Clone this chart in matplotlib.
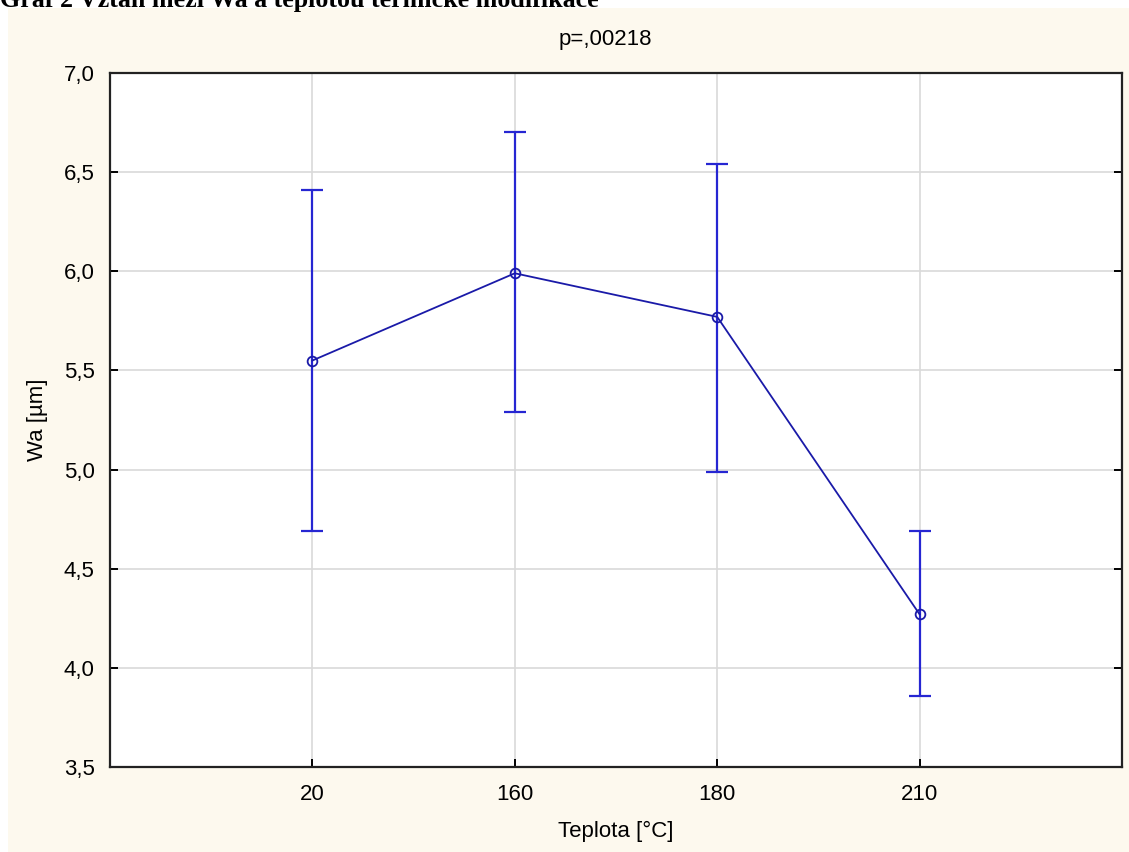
import matplotlib
matplotlib.use("Agg")
import matplotlib.pyplot as plt
from matplotlib.patches import Rectangle

categories = ["20", "160", "180", "210"]
means = [5.55, 5.99, 5.77, 4.27]
upper = [6.41, 6.70, 6.54, 4.69]
lower = [4.69, 5.29, 4.99, 3.86]
yticks = [3.5, 4.0, 4.5, 5.0, 5.5, 6.0, 6.5, 7.0]
ytick_labels = ["3,5", "4,0", "4,5", "5,0", "5,5", "6,0", "6,5", "7,0"]

plt.rcParams['font.family'] = ['Liberation Sans', 'DejaVu Sans']

W, H = 1129, 852
fig = plt.figure(figsize=(W/100, H/100), dpi=100, facecolor='white')
fig.patches.append(Rectangle((8/W, 0), 1 - 8/W, 1 - 8/H, transform=fig.transFigure,
                             facecolor='#fdf9ee', edgecolor='none', zorder=-10))
fig.text(0.0, 1 - 1/H, "Graf 2 Vztah mezi Wa a teplotou termické modifikace",
         family='Liberation Serif', fontweight='bold', fontsize=18.7, ha='left', va='center')

ax = fig.add_axes([110/W, 1 - 767/H, (1122-110)/W, (767-73)/H])
ax.set_facecolor('white')
x = list(range(len(categories)))
yerr_low = [m - l for m, l in zip(means, lower)]
yerr_up = [u - m for m, u in zip(means, upper)]
ax.errorbar(x, means, yerr=[yerr_low, yerr_up], fmt='none', ecolor='#2626d2',
            elinewidth=1.6, capsize=8, capthick=1.6, zorder=3)
ax.plot(x, means, color='#1a1aa8', lw=1.3, marker='o', markersize=7,
        markerfacecolor='none', markeredgecolor='#1a1aa8', markeredgewidth=1.3, zorder=4)

ax.set_xlim(-1, 4)
ax.set_ylim(3.5, 7.0)
ax.set_xticks(x)
ax.set_xticklabels(categories)
ax.set_yticks(yticks)
ax.set_yticklabels(ytick_labels)
ax.grid(True, color='#d9d9d9', lw=1.2)
ax.set_axisbelow(True)
for s in ax.spines.values():
    s.set_linewidth(1.6)
    s.set_color('#222222')
ax.tick_params(direction='in', length=6, width=1.4, labelsize=16, right=True, top=False)
ax.tick_params(axis='x', pad=12)
ax.tick_params(axis='y', pad=11)

ax.set_xlabel("Teplota [°C]", fontsize=16)
ax.set_ylabel("Wa [µm]", fontsize=16)
ax.xaxis.set_label_coords(0.5, -(831 - 767) / (767 - 73))
ax.xaxis.label.set_va('center')
ax.yaxis.set_label_coords(-(110 - 38) / (1122 - 110), 0.5)
ax.yaxis.label.set_va('center')
fig.text(605/W, 1 - 39/H, "p=,00218", fontsize=16, ha='center', va='center')

fig.savefig("out.png", dpi=100, facecolor=fig.get_facecolor())
